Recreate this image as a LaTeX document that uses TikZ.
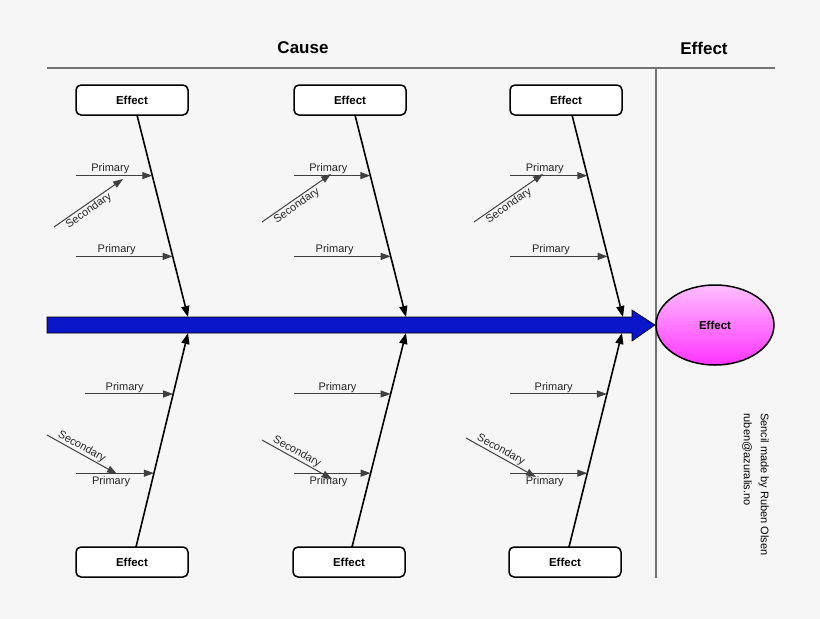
\documentclass[tikz,border=0pt]{standalone}
\usepackage{fontspec}
\setmainfont{Liberation Sans}
\usetikzlibrary{arrows.meta,calc,shapes.geometric}
\definecolor{bg}{HTML}{F6F6F6}
\definecolor{spine}{HTML}{0A14C8}
\tikzset{
  box/.style={draw,rounded corners=5pt,line width=1.5pt,fill=white,minimum width=112pt,minimum height=30pt,font=\bfseries\fontsize{11.5}{13}\selectfont},
  bone/.style={line width=1.6pt,-{Triangle[length=11pt,width=8pt]}},
  prim/.style={draw=black!75,line width=1pt,-{Triangle[length=10pt,width=7pt]}},
  lab/.style={font=\fontsize{11}{12}\selectfont,text=black!85,inner sep=1pt},
  frame/.style={draw=black!55,line width=1.4pt}
}
\begin{document}
\begin{tikzpicture}[x=1pt,y=-1pt]
\fill[bg] (0,0) rectangle (820,619);
\useasboundingbox (0,0) rectangle (820,619);
\node[font=\bfseries\fontsize{17}{19}\selectfont] (cause) at (303,48) {Cause};
\node[font=\bfseries\fontsize{17}{19}\selectfont] (effect) at (704,48) {Effect};
\coordinate (hl) at (47,68); \coordinate (hr) at (775,68);
\coordinate (vt) at (656,68); \coordinate (vb) at (656,578);
\draw[frame] (hl) -- (hr);
\draw[frame] (vt) -- (vb);
\draw[draw=black,fill=spine,line width=0.6pt] (47,317) -- (632,317) -- (632,310) -- (655,325) -- (632,341) -- (632,333) -- (47,333) -- cycle;
\node[ellipse,draw,line width=1.5pt,minimum width=118pt,minimum height=80pt,top color=magenta!25,bottom color=magenta!80,font=\bfseries\fontsize{11.5}{13}\selectfont] (eff) at (715,325) {Effect};
\foreach \i/\x in {1/132,2/350,3/566}{
  \node[box] (t\i) at (\x,100) {Effect};
}
\foreach \i/\x in {1/132,2/349,3/565}{
  \node[box] (b\i) at (\x,562) {Effect};
}
\coordinate (te1) at (188,317); \coordinate (te2) at (406,317); \coordinate (te3) at (623,317);
\coordinate (be1) at (188,333); \coordinate (be2) at (406,333); \coordinate (be3) at (622,333);
\coordinate (ts1) at (137,115); \coordinate (ts2) at (355,115); \coordinate (ts3) at (572,115);
\coordinate (bs1) at (136,547); \coordinate (bs2) at (352,547); \coordinate (bs3) at (569,547);
\foreach \i in {1,2,3}{
  \draw[bone] (ts\i) -- (te\i);
  \draw[bone] (bs\i) -- (be\i);
  \coordinate (tp\i a) at ($(ts\i)!0.30!(te\i)$);
  \coordinate (tp\i b) at ($(ts\i)!0.70!(te\i)$);
  \coordinate (bp\i a) at ($(bs\i)!0.715!(be\i)$);
  \coordinate (bp\i b) at ($(bs\i)!0.345!(be\i)$);
}
\foreach \i/\x in {1/76,2/294,3/510}{
  \coordinate (tq\i a) at (\x,0 |- tp\i a);
  \coordinate (tq\i b) at (\x,0 |- tp\i b);
  \draw[prim] (tq\i a) -- (tp\i a) node[lab,pos=0.45,above] {Primary};
  \draw[prim] (tq\i b) -- (tp\i b) node[lab,pos=0.42,above] {Primary};
}
\foreach \i/\x/\y in {1/54/227,2/262/222,3/474/222}{
  \coordinate (ss\i) at (\x,\y);
  \coordinate (se\i) at ($(\x,\y)+(69,-48)$);
  \draw[prim] (ss\i) -- (se\i) node[lab,pos=0.45,below,sloped] {Secondary};
}
\foreach \i/\x/\y in {1/85/76,2/294/294,3/510/510}{
  \coordinate (bq\i a) at (\x,0 |- bp\i a);
  \coordinate (bq\i b) at (\y,0 |- bp\i b);
  \draw[prim] (bq\i a) -- (bp\i a) node[lab,pos=0.45,above] {Primary};
  \draw[prim] (bq\i b) -- (bp\i b) node[lab,pos=0.45,below,inner sep=3pt] {Primary};
}
\foreach \i/\x/\y in {1/47/435,2/262/440,3/466/438}{
  \coordinate (bss\i) at (\x,\y);
  \coordinate (bse\i) at ($(\x,\y)+(70,39)$);
  \draw[prim] (bss\i) -- (bse\i) node[lab,pos=0.45,above,sloped] {Secondary};
}
\node[rotate=-90,anchor=north west,align=left,font=\fontsize{11}{17}\selectfont,inner sep=0pt] (credit) at (769,413) {Sencil made by Ruben Olsen\\ruben@azuralis.no};
\end{tikzpicture}
\end{document}
